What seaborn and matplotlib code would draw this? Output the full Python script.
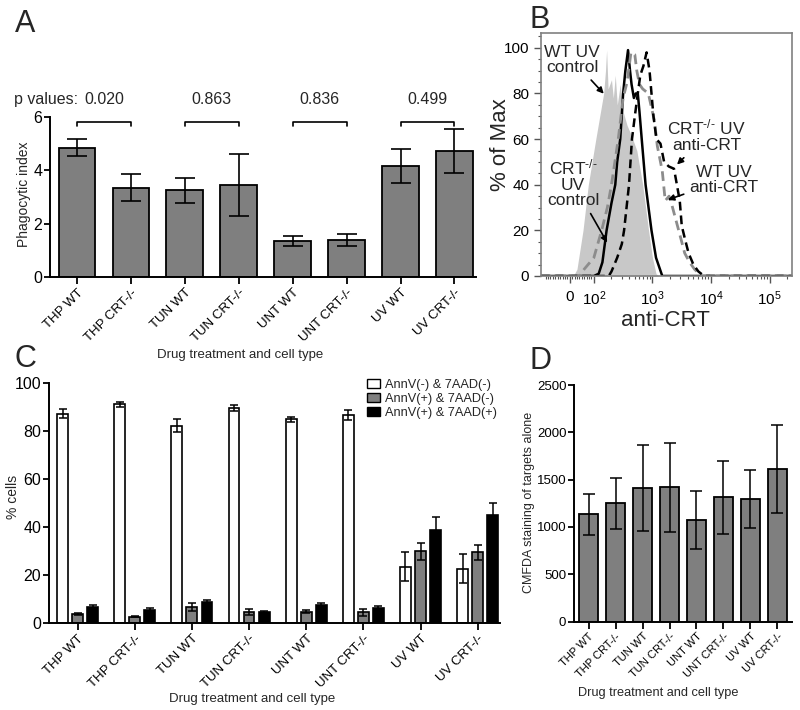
import matplotlib
matplotlib.use("Agg")
import matplotlib.pyplot as plt
import numpy as np
import pandas as pd
import seaborn as sns
from matplotlib.ticker import AutoMinorLocator, FixedLocator

# Data
groups = ["THP WT", "THP CRT-/-", "TUN WT", "TUN CRT-/-",
          "UNT WT", "UNT CRT-/-", "UV WT", "UV CRT-/-"]

# A: phagocytic index
phago_mean = [4.85, 3.35, 3.25, 3.45, 1.35, 1.39, 4.17, 4.72]
phago_err = [0.31, 0.50, 0.48, 1.15, 0.19, 0.23, 0.63, 0.82]
p_values = ["0.020", "0.863", "0.836", "0.499"]

# B: flow histograms (anti-CRT intensity, % of max)
ctrl_wt_x = [-120, 15, 30, 55, 77, 108, 147, 158, 165, 175, 200, 215, 232, 251,
             282, 316, 369, 430, 541, 681, 858, 1000, 1150, 1300, 240000]
ctrl_wt_y = [0, 0, 3, 20, 40, 60, 80, 90, 99, 82, 86, 78, 88, 75,
             84, 72, 66, 62, 55, 40, 20, 8, 1, 0, 0]
ctrl_ko_x = [-120, 100, 121, 140, 165, 200, 232, 250, 282, 316, 345, 383, 414,
             440, 482, 520, 562, 600, 656, 763, 962, 1150, 1470, 240000]
ctrl_ko_y = [0, 0, 1, 6, 20, 32, 40, 50, 60, 80, 90, 99, 90,
             84, 78, 80, 80, 72, 60, 40, 20, 8, 0, 0]
anti_ko_x = [-120, 180, 200, 250, 300, 328, 398, 447, 500, 562, 620, 700, 794,
             891, 1040, 1170, 1370, 1580, 1900, 2330, 2610, 2920, 3160, 3600,
             4130, 5000, 6060, 7600, 240000]
anti_ko_y = [0, 0, 2, 8, 14, 20, 40, 60, 70, 80, 88, 92, 98,
             90, 70, 60, 58, 50, 48, 47, 40, 33, 22, 16,
             10, 5, 2, 0, 0]
anti_wt_x = [-120, 40, 60, 100, 136, 170, 200, 261, 316, 369, 430, 500, 540,
             600, 681, 850, 1080, 1210, 1470, 1650, 1920, 2150, 2800, 3550,
             4300, 5210, 6800, 240000]
anti_wt_y = [0, 0, 3, 8, 20, 30, 40, 60, 78, 85, 98, 97, 90,
             84, 82, 80, 68, 57, 46, 33, 35, 31, 20, 10,
             6, 3, 0, 0]

# C: apoptosis staining
stains = ["AnnV(-) & 7AAD(-)", "AnnV(+) & 7AAD(-)", "AnnV(+) & 7AAD(+)"]
neg_neg = [87.2, 91.2, 82.2, 89.6, 84.8, 86.6, 23.4, 22.6]
neg_neg_err = [1.8, 1.0, 2.6, 1.2, 1.2, 2.2, 6.0, 6.1]
pos_neg = [3.9, 2.6, 6.7, 4.5, 4.7, 4.5, 29.9, 29.4]
pos_neg_err = [0.4, 0.3, 1.8, 1.2, 0.7, 1.5, 3.5, 3.2]
pos_pos = [6.7, 5.3, 8.8, 4.6, 7.7, 6.1, 38.7, 45.0]
pos_pos_err = [1.0, 0.8, 0.6, 0.5, 0.8, 0.8, 5.6, 5.1]

# D: CMFDA staining
cmfda_mean = [1135, 1250, 1410, 1420, 1070, 1312, 1293, 1608]
cmfda_err = [218, 270, 452, 472, 308, 385, 305, 466]

# Style
sns.set_style("ticks")
plt.rcParams["font.family"] = ["Liberation Sans", "DejaVu Sans"]
plt.rcParams["mathtext.fontset"] = "custom"
plt.rcParams["mathtext.rm"] = "Liberation Sans"
plt.rcParams["mathtext.it"] = "Liberation Sans"
plt.rcParams["mathtext.bf"] = "Liberation Sans:bold"
plt.rcParams["axes.linewidth"] = 1.4
plt.rcParams["xtick.major.width"] = 1.3
plt.rcParams["ytick.major.width"] = 1.3
plt.rcParams["xtick.color"] = "black"
plt.rcParams["ytick.color"] = "black"
plt.rcParams["axes.edgecolor"] = "black"

bar_gray = "#7f7f7f"
W, H = 800, 710

def axes_px(left, top, right, bottom):
	return fig.add_axes([left / W, 1 - bottom / H, (right - left) / W, (bottom - top) / H])

def rot_labels(ax, size):
	for lab in ax.get_xticklabels():
		lab.set_rotation(45)
		lab.set_ha("right")
		lab.set_rotation_mode("anchor")
		lab.set_fontsize(size)

fig = plt.figure(figsize=(8, 7.1), dpi=100)

# ---------- Panel A ----------
axA = axes_px(50, 117, 476, 277)
sns.barplot(x=groups, y=phago_mean, color=bar_gray, saturation=1, edgecolor="black",
			linewidth=1.3, width=0.68, errorbar=None, ax=axA)
axA.errorbar(range(len(groups)), phago_mean, yerr=phago_err, fmt="none",
			 ecolor="black", elinewidth=1.2, capsize=7.5, capthick=1.2)
axA.set_ylim(0, 6)
axA.set_xlim(-0.5, 7.4)
axA.set_yticks([0, 2, 4, 6])
axA.tick_params(axis="y", labelsize=11.5, length=4, pad=1.5)
axA.tick_params(axis="x", length=5, pad=2)
rot_labels(axA, 9.5)
sns.despine(ax=axA)
axA.set_ylabel("Phagocytic index", fontsize=10)
axA.yaxis.set_label_coords(-0.044, 0.52)
axA.set_xlabel("Drug treatment and cell type", fontsize=9.5)
axA.xaxis.set_label_coords(0.446, -0.45)
for k, p in enumerate(p_values):
	i = 2 * k
	axA.plot([i, i, i + 1, i + 1], [5.66, 5.82, 5.82, 5.66], color="black",
			 lw=1.2, clip_on=False)
	axA.text(i + 0.5, 6.67, p, ha="center", va="center", fontsize=11.5)
axA.text(-0.085, 6.67, "p values:", transform=axA.get_yaxis_transform(),
		 ha="left", va="center", fontsize=11.5)

# ---------- Panel B ----------
axB = axes_px(541, 33, 792, 276)
axB.fill_between(ctrl_wt_x, ctrl_wt_y, color="#c8c8c8", lw=0)
axB.plot(ctrl_ko_x, ctrl_ko_y, color="black", lw=1.8)
axB.plot(anti_wt_x, anti_wt_y, color="#8c8c8c", lw=2.0, dashes=(3.5, 2))
axB.plot(anti_ko_x, anti_ko_y, color="black", lw=1.8, dashes=(3.5, 2))
axB.set_xscale("symlog", linthresh=100, linscale=0.37)
axB.set_xlim(-120, 2.4e5)
axB.set_ylim(0, 106.5)
for s in axB.spines.values():
	s.set_color("#808080")
	s.set_linewidth(1.2)
axB.set_yticks([0, 20, 40, 60, 80, 100])
axB.yaxis.set_minor_locator(AutoMinorLocator(4))
axB.set_xticks([0, 1e2, 1e3, 1e4, 1e5])
axB.set_xticklabels(["0", r"$10^2$", r"$10^3$", r"$10^4$", r"$10^5$"])
minor = [v for v in range(-100, 100, 10)]
for dec in [100, 1000, 10000, 100000]:
	minor += [m * dec for m in range(2, 10)]
axB.xaxis.set_minor_locator(FixedLocator(minor))
axB.tick_params(axis="both", which="major", labelsize=11, length=5, width=1.0, color="#555555")
axB.tick_params(axis="both", which="minor", length=2.5, width=0.8, color="#555555")
axB.tick_params(axis="x", which="major", pad=5)
axB.set_ylabel("% of Max", fontsize=16)
axB.yaxis.set_label_coords(-0.12, 0.54)
axB.set_xlabel("anti-CRT", fontsize=16)
axB.xaxis.set_label_coords(0.494, -0.14)
arrow = dict(arrowstyle="-|>", color="black", lw=1.2, mutation_scale=9)
ko = r"CRT$^{\text{-/-}}$"
axB.annotate("WT UV\ncontrol", xy=(159, 79), xytext=(0.125, 0.89),
			 textcoords="axes fraction", ha="center", va="center", fontsize=12.5,
			 linespacing=1.0, arrowprops=arrow)
axB.annotate(ko + "\nUV\ncontrol", xy=(178, 13.6), xytext=(0.128, 0.383),
			 textcoords="axes fraction", ha="center", va="center", fontsize=12.5,
			 linespacing=1.0, arrowprops=arrow)
axB.annotate(ko + " UV\nanti-CRT", xy=(2430, 48), xytext=(0.66, 0.58),
			 textcoords="axes fraction", ha="center", va="center", fontsize=12.5,
			 linespacing=1.0, arrowprops=arrow)
axB.annotate("WT UV\nanti-CRT", xy=(1650, 33), xytext=(0.73, 0.395),
			 textcoords="axes fraction", ha="center", va="center", fontsize=12.5,
			 linespacing=1.0, arrowprops=arrow)

# ---------- Panel C ----------
axC = axes_px(49, 383, 500, 623)
dfC = pd.DataFrame({
	"group": groups * 3,
	"stain": [stains[0]] * 8 + [stains[1]] * 8 + [stains[2]] * 8,
	"value": neg_neg + pos_neg + pos_pos,
})
errsC = [neg_neg_err, pos_neg_err, pos_pos_err]
valsC = [neg_neg, pos_neg, pos_pos]
sns.barplot(data=dfC, x="group", y="value", hue="stain", order=groups, hue_order=stains,
			palette=["white", bar_gray, "black"], saturation=1, edgecolor="black",
			linewidth=1.2, width=0.79, gap=0.28, errorbar=None, ax=axC)
for cont, vals, errs in zip(axC.containers, valsC, errsC):
	xs = [b.get_x() + b.get_width() / 2 for b in cont]
	axC.errorbar(xs, vals, yerr=errs, fmt="none", ecolor="black",
				 elinewidth=1.1, capsize=2.8, capthick=1.1)
axC.set_ylim(0, 100)
axC.set_xlim(-0.5, 7.39)
axC.set_yticks([0, 20, 40, 60, 80, 100])
axC.tick_params(axis="y", labelsize=11.5, length=4, pad=1.5)
axC.tick_params(axis="x", length=5, pad=2)
rot_labels(axC, 9.5)
sns.despine(ax=axC)
axC.set_ylabel("% cells", fontsize=10)
axC.yaxis.set_label_coords(-0.064, 0.525)
axC.set_xlabel("Drug treatment and cell type", fontsize=9.5)
axC.xaxis.set_label_coords(0.45, -0.29)
leg = axC.legend(loc="upper right", bbox_to_anchor=(1.005, 1.04), frameon=False,
				 fontsize=9.2, handlelength=1.0, handleheight=0.75,
				 handletextpad=0.4, labelspacing=0.15, borderaxespad=0)
for h in leg.legend_handles:
	h.set_edgecolor("black")
	h.set_linewidth(1.0)

# ---------- Panel D ----------
axD = axes_px(574, 385, 792, 621.5)
sns.barplot(x=groups, y=cmfda_mean, color=bar_gray, saturation=1, edgecolor="black",
			linewidth=1.3, width=0.7, errorbar=None, ax=axD)
axD.errorbar(range(len(groups)), cmfda_mean, yerr=cmfda_err, fmt="none",
			 ecolor="black", elinewidth=1.1, capsize=4.3, capthick=1.1)
axD.set_ylim(0, 2500)
axD.set_xlim(-0.54, 7.54)
axD.set_yticks([0, 500, 1000, 1500, 2000, 2500])
axD.tick_params(axis="y", labelsize=9.5, length=4, pad=1.5)
axD.tick_params(axis="x", length=5, pad=2)
rot_labels(axD, 8)
sns.despine(ax=axD)
axD.set_ylabel("CMFDA staining of targets alone", fontsize=9)
axD.yaxis.set_label_coords(-0.18, 0.505)
axD.set_xlabel("Drug treatment and cell type", fontsize=9.2)
axD.xaxis.set_label_coords(0.385, -0.275)

# Panel letters
for letter, (px, py) in {"A": (15, 32), "B": (529, 28), "C": (15, 367), "D": (529, 369)}.items():
	fig.text(px / W, 1 - py / H, letter, fontsize=22, ha="left", va="baseline")

plt.savefig("out.png", dpi=100)
plt.close("all")
